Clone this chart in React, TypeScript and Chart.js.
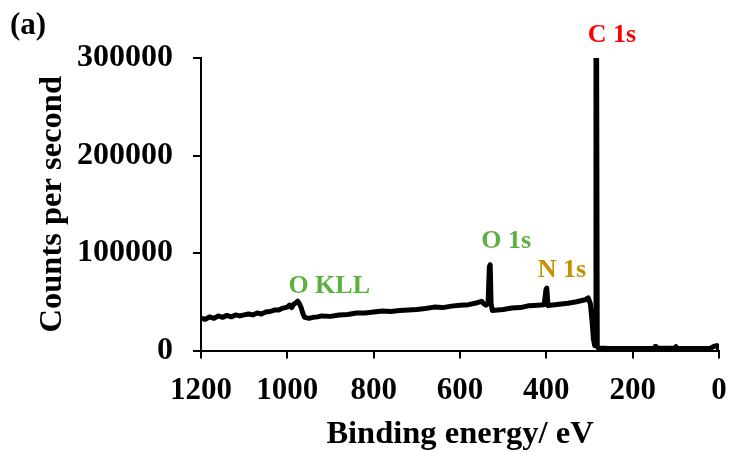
import React, { useEffect, useRef } from "react";
import { Chart, registerables } from "chart.js";

Chart.register(...registerables);

// Binding energy (eV) and intensity (counts per second)
const energies: number[] = [
  1200, 1190, 1180, 1170, 1160, 1150, 1140, 1130, 1120, 1110, 1100, 1090, 1080, 1070, 1060, 1050,
  1040, 1030, 1020, 1010, 1000, 995, 990, 985, 980, 976, 972, 968, 964, 960, 950, 940, 930, 920,
  900, 880, 860, 840, 820, 800, 780, 760, 740, 720, 700, 680, 660, 640, 620, 600, 580, 560, 550,
  545, 540, 535, 532, 530, 528, 525, 500, 480, 460, 440, 420, 405, 401, 399, 396, 390, 370, 350,
  330, 310, 303, 298, 294, 291, 288, 286, 285, 283.5, 282, 280, 260, 200, 150, 148, 146, 102, 100,
  98, 50, 20, 10, 5, 0,
];
const counts: number[] = [
  33000, 32000, 34500, 33000, 35500, 34000, 36000, 34500, 36500, 35500, 36500, 37500, 36500, 38500,
  37500, 39500, 40000, 41500, 41500, 43500, 44500, 46500, 44000, 47500, 49000, 50500, 48000, 44000,
  38000, 34000, 33000, 34000, 34500, 35500, 35000, 36500, 37000, 38500, 38500, 39500, 40500, 40000,
  41000, 41500, 42000, 43000, 44500, 44000, 45500, 46500, 47000, 49000, 50500, 48000, 46500, 48000,
  86000, 88000, 48000, 41000, 42000, 43500, 44000, 46000, 46500, 47000, 62000, 64000, 46000, 46500,
  47500, 48500, 50000, 52000, 54000, 48000, 30000, 12000, 5000, 8000, 310000, 310000, 4000, 2500,
  2200, 2000, 2400, 4000, 2300, 2200, 4000, 2200, 2000, 2300, 4500, 5000, 500,
];

const xTicks: number[] = [1200, 1000, 800, 600, 400, 200, 0];
const yTicks: number[] = [0, 100000, 200000, 300000];

// Peak labels anchored in data units (energy, counts)
const peakLabels: string[] = ["C 1s", "O 1s", "N 1s", "O KLL"];
const peakLabelEnergy: number[] = [248, 493, 364, 903];
const peakLabelCounts: number[] = [316400, 105100, 75400, 59000];
const peakLabelColors: string[] = ["#FF0000", "#5BB03F", "#C39100", "#5BB03F"];

const panelLabel = "(a)";
const xTitle = "Binding energy/ eV";
const yTitle = "Counts per second";

const FONT = "'Liberation Serif', 'Times New Roman', serif";

const annotationPlugin = {
  id: "peakAnnotations",
  afterDatasetsDraw(chart: any) {
    const ctx = chart.ctx;
    const xs = chart.scales.x;
    const ys = chart.scales.y;
    ctx.save();
    ctx.font = `bold 26px ${FONT}`;
    ctx.textAlign = "center";
    ctx.textBaseline = "alphabetic";
    peakLabels.forEach((t, i) => {
      ctx.fillStyle = peakLabelColors[i];
      ctx.fillText(t, xs.getPixelForValue(peakLabelEnergy[i]), ys.getPixelForValue(peakLabelCounts[i]));
    });
    ctx.font = `bold 31px ${FONT}`;
    ctx.textAlign = "left";
    ctx.fillStyle = "#000";
    ctx.fillText(panelLabel, 10, 34);
    ctx.restore();
  },
};

export default function App() {
  const ref = useRef<HTMLCanvasElement | null>(null);
  useEffect(() => {
    if (!ref.current) return;
    const chart = new Chart(ref.current, {
      type: "line",
      data: {
        datasets: [
          {
            data: energies.map((e, i) => ({ x: e, y: counts[i] })),
            borderColor: "#000",
            backgroundColor: "#000",
            borderWidth: 5,
            pointRadius: 0,
            tension: 0,
            clip: 0,
            borderJoinStyle: "round",
            borderCapStyle: "round",
          } as any,
        ],
      },
      options: {
        animation: false,
        responsive: false,
        devicePixelRatio: 1,
        layout: { padding: { top: 58, right: 13, left: 0, bottom: 0 } },
        plugins: { legend: { display: false }, tooltip: { enabled: false } },
        scales: {
          x: {
            type: "linear",
            reverse: true,
            min: 0,
            max: 1200,
            afterBuildTicks: (s: any) => {
              s.ticks = xTicks.map((v) => ({ value: v }));
            },
            ticks: {
              color: "#000",
              font: { family: FONT, size: 31, weight: "bold" },
              padding: 14,
              maxRotation: 0,
              autoSkip: false,
              callback: (v: any) => String(v),
            },
            grid: { display: true, drawOnChartArea: false, drawTicks: true, tickLength: 8, color: "#000", lineWidth: 2 },
            border: { display: true, color: "#000", width: 2 },
            title: {
              display: true,
              text: xTitle,
              color: "#000",
              font: { family: FONT, size: 32.5, weight: "bold", lineHeight: 1 },
              padding: { top: 0, bottom: 1 },
            },
            afterFit: (s: any) => {
              s.height = 101.5;
              s.paddingLeft = 0;
              s.paddingRight = 0;
            },
          } as any,
          y: {
            type: "linear",
            min: 0,
            max: 300000,
            afterBuildTicks: (s: any) => {
              s.ticks = yTicks.map((v) => ({ value: v }));
            },
            ticks: {
              color: "#000",
              font: { family: FONT, size: 32, weight: "bold" },
              padding: 20,
              autoSkip: false,
              callback: (v: any) => String(v),
            },
            grid: { display: true, drawOnChartArea: false, drawTicks: true, tickLength: 8, color: "#000", lineWidth: 2 },
            border: { display: true, color: "#000", width: 2 },
            title: {
              display: true,
              text: yTitle,
              color: "#000",
              font: { family: FONT, size: 32.5, weight: "bold", lineHeight: 1 },
              padding: { top: 36, bottom: 0 },
            },
            afterFit: (s: any) => {
              s.width = 201;
              s.paddingTop = 0;
              s.paddingBottom = 0;
            },
          } as any,
        },
      },
      plugins: [annotationPlugin],
    });
    return () => chart.destroy();
  }, []);
  return (
    <div style={{ position: "fixed", left: 0, top: 0, width: 732, height: 452, background: "#fff" }}>
      <canvas ref={ref} width={732} height={452} style={{ width: 732, height: 452 }} />
    </div>
  );
}
